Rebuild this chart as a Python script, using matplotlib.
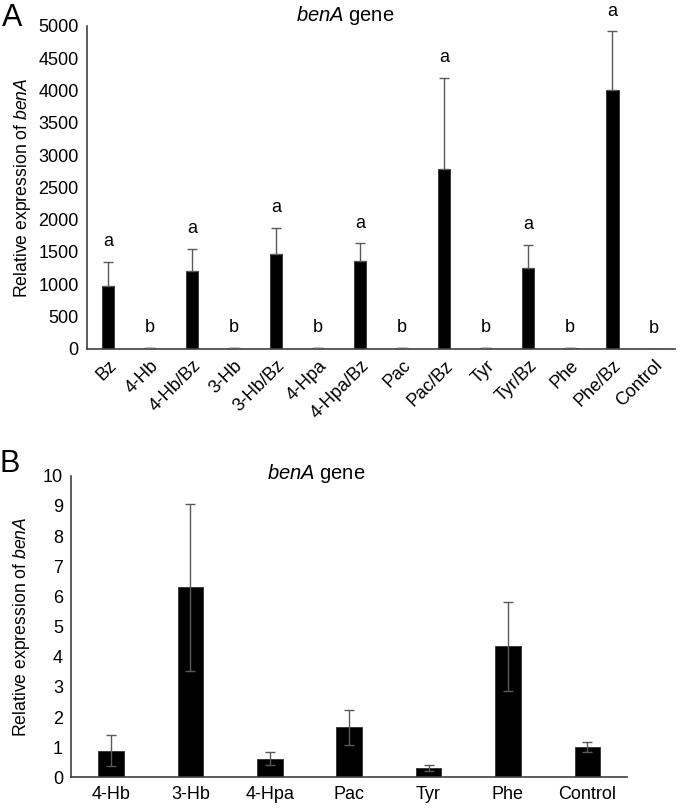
import numpy as np
import matplotlib.pyplot as plt

# ---------------------------------------------------------
# === Data ===
# ---------------------------------------------------------
A_LABELS = ['Bz', '4-Hb', '4-Hb/Bz', '3-Hb', '3-Hb/Bz', '4-Hpa', '4-Hpa/Bz',
            'Pac', 'Pac/Bz', 'Tyr', 'Tyr/Bz', 'Phe', 'Phe/Bz', 'Control']
A_MEAN = [975, 6, 1196, 6, 1464, 6, 1351, 6, 2779, 6, 1248, 6, 4006, 1]
A_ERR = [365, 0, 345, 0, 412, 0, 280, 0, 1417, 0, 360, 0, 908, 0]
A_LETTERS = ['a', 'b', 'a', 'b', 'a', 'b', 'a', 'b', 'a', 'b', 'a', 'b', 'a', 'b']

B_LABELS = ['4-Hb', '3-Hb', '4-Hpa', 'Pac', 'Tyr', 'Phe', 'Control']
B_MEAN = [0.885, 6.30, 0.62, 1.66, 0.30, 4.34, 1.01]
B_ERR = [0.51, 2.76, 0.22, 0.58, 0.10, 1.47, 0.16]

plt.rcParams['font.family'] = ['Liberation Sans', 'DejaVu Sans']
plt.rcParams['mathtext.fontset'] = 'custom'
plt.rcParams['mathtext.rm'] = 'Liberation Sans'
plt.rcParams['mathtext.it'] = 'Liberation Sans:italic'

SPINE = '#404040'
ERRC = '#5a5a5a'


def style_axes(ax):
    for s in ['top', 'right']:
        ax.spines[s].set_visible(False)
    for s in ['left', 'bottom']:
        ax.spines[s].set_color(SPINE)
        ax.spines[s].set_linewidth(1.2)
    ax.tick_params(length=0)


fig = plt.figure(figsize=(6.8, 8.09), dpi=100)

# ---------------------------------------------------------
# === Panel A ===
# ---------------------------------------------------------
axA = fig.add_axes([0.128, 0.569, 0.865, 0.399])
xa = np.arange(len(A_LABELS))
axA.bar(xa, A_MEAN, width=0.3, color='black', edgecolor='#303030', linewidth=0.6, zorder=2)
axA.errorbar(xa, A_MEAN, yerr=[np.zeros(len(A_ERR)), A_ERR], fmt='none',
             ecolor=ERRC, elinewidth=1, capsize=3.3, capthick=1, zorder=3)
for x, m, e, let in zip(xa, A_MEAN, A_ERR, A_LETTERS):
    axA.annotate(let, (x, m + e), xytext=(0, 8.5), textcoords='offset points',
                 ha='center', va='bottom', fontsize=13)
axA.set_xlim(-0.5, len(A_LABELS) - 0.5)
axA.set_ylim(0, 5000)
axA.set_yticks(np.arange(0, 5001, 500))
axA.set_xticks(xa)
axA.set_xticklabels(A_LABELS, rotation=45, ha='right', rotation_mode='anchor')
axA.tick_params(axis='both', labelsize=13, pad=6)
axA.set_ylabel(r'Relative expression of $\it{benA}$', fontsize=12.7, labelpad=4)
style_axes(axA)
fig.text(0.507, 0.981, r'$\it{benA}$ gene', ha='center', va='center', fontsize=14.5)
fig.text(0.003, 0.996, 'A', ha='left', va='top', fontsize=22)

# ---------------------------------------------------------
# === Panel B ===
# ---------------------------------------------------------
axB = fig.add_axes([0.105, 0.039, 0.817, 0.373])
xb = np.arange(len(B_LABELS))
axB.bar(xb, B_MEAN, width=0.32, color='black', edgecolor='#303030', linewidth=0.6, zorder=2)
axB.errorbar(xb, B_MEAN, yerr=B_ERR, fmt='none',
             ecolor=ERRC, elinewidth=1, capsize=3.3, capthick=1, zorder=3)
axB.set_xlim(-0.5, len(B_LABELS) - 0.5)
axB.set_ylim(0, 10)
axB.set_yticks(np.arange(0, 11, 1))
axB.set_xticks(xb)
axB.set_xticklabels(B_LABELS)
axB.tick_params(axis='both', labelsize=13, pad=6)
axB.set_ylabel(r'Relative expression of $\it{benA}$', fontsize=12.7, labelpad=8)
style_axes(axB)
fig.text(0.465, 0.415, r'$\it{benA}$ gene', ha='center', va='center', fontsize=14.5)
fig.text(0.0, 0.426, 'B', ha='left', va='center', fontsize=22)

fig.savefig('out.png', dpi=100)
